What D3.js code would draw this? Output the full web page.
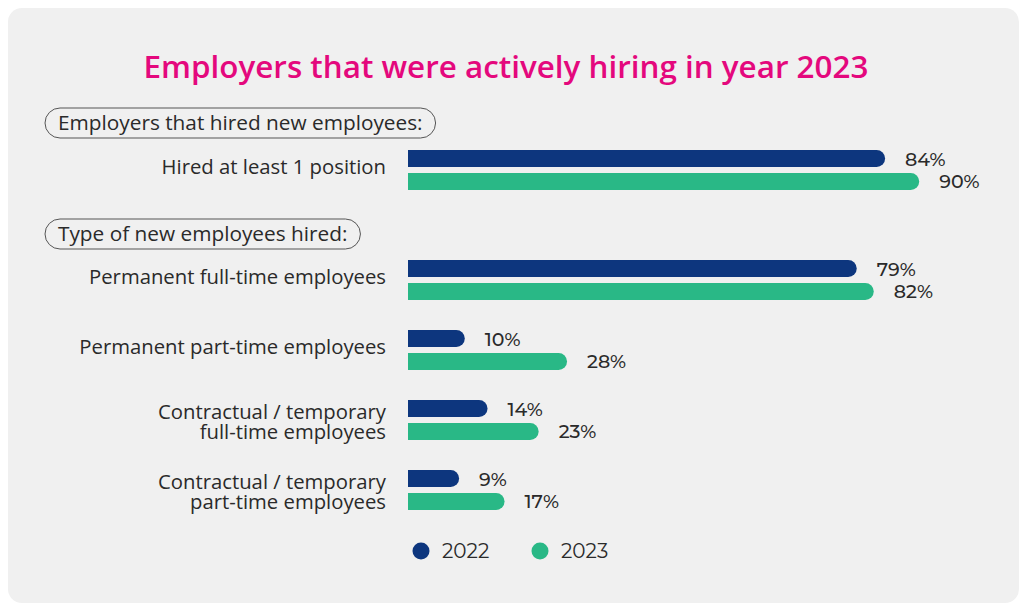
<!DOCTYPE html>
<html>
<head>
<meta charset="utf-8">
<script src="https://cdn.jsdelivr.net/npm/d3@7"></script>
<style>
  html, body { margin: 0; padding: 0; background: #ffffff; }
  svg { display: block; }
</style>
</head>
<body>
<svg id="chart"></svg>
<script>
'use strict'

// data
var groups = ["Employers that hired new employees:", "Type of new employees hired:"];
var categories = [
	["Hired at least 1 position"],
	["Permanent full-time employees"],
	["Permanent part-time employees"],
	["Contractual / temporary", "full-time employees"],
	["Contractual / temporary", "part-time employees"]
];
var categoryGroup = [0, 1, 1, 1, 1];
var series = ["2022", "2023"];
var values2022 = [84, 79, 10, 14, 9];
var values2023 = [90, 82, 28, 23, 17];

var WIDTH = 1024,
	HEIGHT = 606;

var blue = "#0d367e",
	green = "#29b886",
	pink = "#e4087d",
	textColor = "#2a2a2a";

var font = "'Open Sans', 'Noto Sans', sans-serif";
var numFont = "Montserrat, 'Open Sans', sans-serif";

var svg = d3.select("#chart")
	.attr("width", WIDTH)
	.attr("height", HEIGHT);

// card background
svg.append("rect")
	.attr("x", 8)
	.attr("y", 8)
	.attr("width", 1011)
	.attr("height", 595)
	.attr("rx", 14)
	.style("fill", "#f0f0f0");

svg.append("text")
	.attr("x", 506)
	.attr("y", 78)
	.style("text-anchor", "middle")
	.style("font-family", font)
	.style("font-size", "31.4px")
	.style("font-weight", 600)
	.style("fill", pink)
	.text("Employers that were actively hiring in year 2023");

var x = d3.scaleLinear()
	.domain([0, 100])
	.range([408, 976]);

// row centres: 70px apart, extra 40px for the second group header
function rowY(i) {
	return 170 + i * 70 + categoryGroup[i] * 40;
}

var inner = d3.scaleBand()
	.domain(series)
	.range([-20, 20])
	.paddingInner(0.26);

var colors = d3.scaleOrdinal()
	.domain(series)
	.range([blue, green]);

var rows = categories.map(function (c, i) {
	return { label: c, values: [values2022[i], values2023[i]], y: rowY(i) };
});

function barPath(x0, y0, w, h) {
	var r = Math.min(h / 2, w);
	return "M" + x0 + "," + y0 +
		"H" + (x0 + w - r) +
		"A" + r + "," + r + " 0 0 1 " + (x0 + w - r) + "," + (y0 + h) +
		"H" + x0 + "Z";
}

var rowG = svg.selectAll("g.row")
	.data(rows)
	.enter()
	.append("g")
	.attr("class", "row")
	.attr("transform", function (d) { return "translate(0," + d.y + ")"; });

// category labels, one text per line
rowG.selectAll("text.cat")
	.data(function (d) {
		return d.label.map(function (l, i) { return { text: l, i: i, n: d.label.length }; });
	})
	.enter()
	.append("text")
	.attr("class", "cat")
	.attr("x", 386)
	.attr("y", function (d) { return d.n == 1 ? -4 : -9 + d.i * 20; })
	.attr("dominant-baseline", "central")
	.style("text-anchor", "end")
	.style("font-family", font)
	.style("font-size", "20.3px")
	.style("fill", textColor)
	.text(function (d) { return d.text; });

var bars = rowG.selectAll("g.bar")
	.data(function (d) {
		return d.values.map(function (v, i) { return { key: series[i], value: v }; });
	})
	.enter()
	.append("g")
	.attr("class", "bar");

bars.append("path")
	.attr("d", function (d) {
		return barPath(x(0), inner(d.key), x(d.value) - x(0), inner.bandwidth());
	})
	.style("fill", function (d) { return colors(d.key); });

bars.append("text")
	.attr("x", function (d) { return x(d.value) + 20; })
	.attr("y", function (d) { return inner(d.key) + inner.bandwidth() / 2 + 7; })
	.style("font-family", numFont)
	.style("font-size", "19px")
	.style("font-weight", 500)
	.style("fill", textColor)
	.text(function (d) { return d.value + "%"; });

// group headers (pill boxes)
var headerY = [123, 234];
var headers = svg.selectAll("g.header")
	.data(groups)
	.enter()
	.append("g")
	.attr("class", "header")
	.attr("transform", function (d, i) { return "translate(45," + headerY[i] + ")"; });

headers.append("text")
	.attr("x", 13)
	.attr("y", 7)
	.style("font-family", font)
	.style("font-size", "20.8px")
	.style("fill", textColor)
	.text(function (d) { return d; });

headers.each(function () {
	var g = d3.select(this);
	var w = g.select("text").node().getComputedTextLength() + 26;
	g.insert("rect", "text")
		.attr("x", 0)
		.attr("y", -15)
		.attr("width", w)
		.attr("height", 30)
		.attr("rx", 15)
		.style("fill", "none")
		.style("stroke", "#555")
		.style("stroke-width", 1);
});

// legend
var legend = svg.selectAll("g.legend")
	.data(series)
	.enter()
	.append("g")
	.attr("class", "legend")
	.attr("transform", function (d, i) { return "translate(" + (421 + i * 119) + ",551)"; });

legend.append("circle")
	.attr("r", 8.5)
	.style("fill", function (d) { return colors(d); });

legend.append("text")
	.attr("x", 21)
	.attr("y", 7)
	.style("font-family", numFont)
	.style("font-size", "20px")
	.style("fill", textColor)
	.text(function (d) { return d; });
</script>
</body>
</html>
